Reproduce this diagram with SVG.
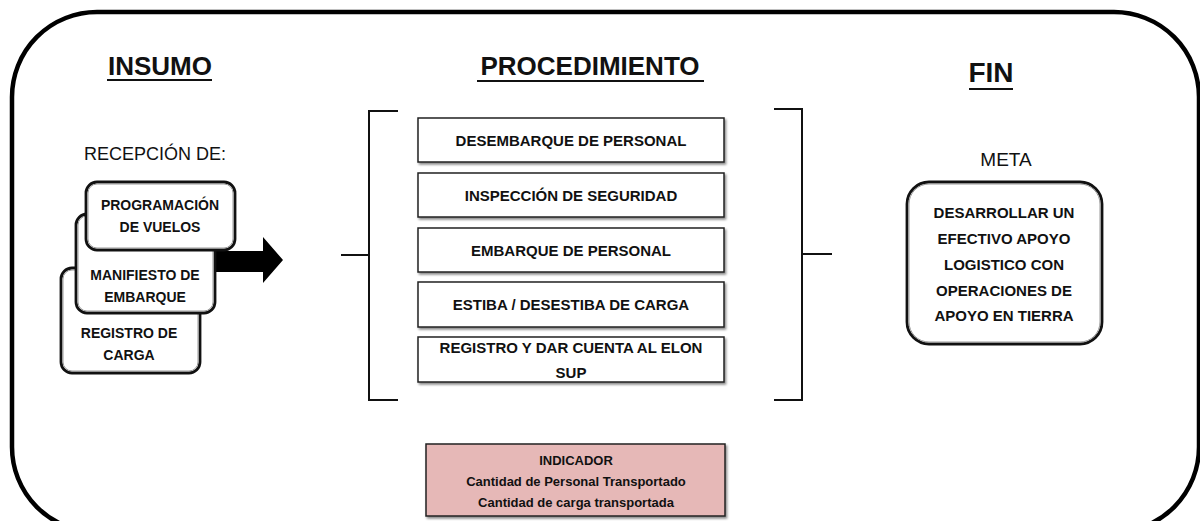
<svg xmlns="http://www.w3.org/2000/svg" width="1200" height="521" viewBox="0 0 1200 521">
<defs>
<style>
.t{font-family:"Liberation Sans",Arial,sans-serif;fill:#111;text-anchor:middle}
.h{font-size:26px;font-weight:bold}
.lab{font-size:18px}
.b{font-weight:bold;font-size:14px}
.p{font-weight:bold;font-size:15px}
.ind{font-weight:bold;font-size:13px}
.ul{stroke:#111;stroke-width:2}
.stk{fill:#fff;stroke:#111;stroke-width:2.8}
.stkin{fill:none;stroke:#999;stroke-width:1}
.proc{fill:#fff;stroke:#222;stroke-width:1.5}
.br{fill:none;stroke:#111;stroke-width:2}
</style>
<filter id="sh" x="-5%" y="-10%" width="115%" height="130%">
<feDropShadow dx="1.5" dy="2" stdDeviation="1.2" flood-color="#000" flood-opacity="0.45"/>
</filter>
</defs>
<rect x="12" y="12" width="1187" height="520" rx="85" fill="#fff" stroke="#000" stroke-width="4.5"/>

<g id="titles">
<text class="t h" x="160" y="75">INSUMO</text>
<line class="ul" x1="107" y1="80" x2="212" y2="80"/>
<text class="t h" x="590" y="75">PROCEDIMIENTO</text>
<line class="ul" x1="477" y1="81" x2="704" y2="81"/>
<text class="t h" x="991" y="82" style="font-size:28px">FIN</text>
<line class="ul" x1="969" y1="89" x2="1013" y2="89"/>
<text class="t lab" x="155" y="160">RECEPCIÓN DE:</text>
<text class="t lab" x="1006" y="166" style="font-size:19px">META</text>
</g>

<g id="connectors">
<polygon points="214,251 263,251 263,237 283,260 263,283 263,272 214,272" fill="#000"/>
<path class="br" d="M398,111 H369 V400 H398 M341,255 H369"/>
<path class="br" d="M774,109 H802 V400 H774 M802,254 H832"/>
</g>

<g id="registro">
<rect class="stk" x="61" y="268" width="139" height="105" rx="11"/>
<rect class="stkin" x="63" y="270" width="135" height="101" rx="9"/>
<text class="t b" x="129" y="338">REGISTRO DE</text>
<text class="t b" x="129" y="360">CARGA</text>
</g>
<g id="manifiesto">
<rect class="stk" x="76" y="214" width="139" height="99" rx="11"/>
<rect class="stkin" x="78" y="216" width="135" height="95" rx="9"/>
<text class="t b" x="145" y="280">MANIFIESTO DE</text>
<text class="t b" x="145" y="302">EMBARQUE</text>
</g>
<g id="programacion">
<rect class="stk" x="86" y="182" width="149" height="68" rx="11"/>
<rect class="stkin" x="88" y="184" width="145" height="64" rx="9"/>
<text class="t b" x="160" y="210">PROGRAMACIÓN</text>
<text class="t b" x="160" y="232">DE VUELOS</text>
</g>

<g id="p1">
<rect class="proc" x="418" y="118" width="306" height="44" filter="url(#sh)"/>
<text class="t p" x="571" y="146">DESEMBARQUE DE PERSONAL</text>
</g>
<g id="p2">
<rect class="proc" x="418" y="173" width="306" height="44" filter="url(#sh)"/>
<text class="t p" x="571" y="201">INSPECCIÓN DE SEGURIDAD</text>
</g>
<g id="p3">
<rect class="proc" x="418" y="228" width="306" height="44" filter="url(#sh)"/>
<text class="t p" x="571" y="256">EMBARQUE DE PERSONAL</text>
</g>
<g id="p4">
<rect class="proc" x="418" y="282" width="306" height="45" filter="url(#sh)"/>
<text class="t p" x="571" y="310">ESTIBA / DESESTIBA DE CARGA</text>
</g>
<g id="p5">
<rect class="proc" x="418" y="337" width="306" height="45" filter="url(#sh)"/>
<text class="t p" x="571" y="353">REGISTRO Y DAR CUENTA AL ELON</text>
<text class="t p" x="571" y="378">SUP</text>
</g>

<g id="meta">
<rect class="stk" x="907" y="182" width="195" height="162" rx="22"/>
<rect class="stkin" x="909" y="184" width="191" height="158" rx="20"/>
<text class="t p" x="1004" y="218">DESARROLLAR UN</text>
<text class="t p" x="1004" y="244">EFECTIVO APOYO</text>
<text class="t p" x="1004" y="270">LOGISTICO CON</text>
<text class="t p" x="1004" y="296">OPERACIONES DE</text>
<text class="t p" x="1004" y="321">APOYO EN TIERRA</text>
</g>

<g id="indicador">
<rect x="426" y="444" width="299" height="72" fill="#E6B8B7" stroke="#222" stroke-width="1.5" filter="url(#sh)"/>
<text class="t ind" x="576" y="465">INDICADOR</text>
<text class="t ind" x="576" y="486">Cantidad de Personal Transportado</text>
<text class="t ind" x="576" y="507">Cantidad de carga transportada</text>
</g>
</svg>
